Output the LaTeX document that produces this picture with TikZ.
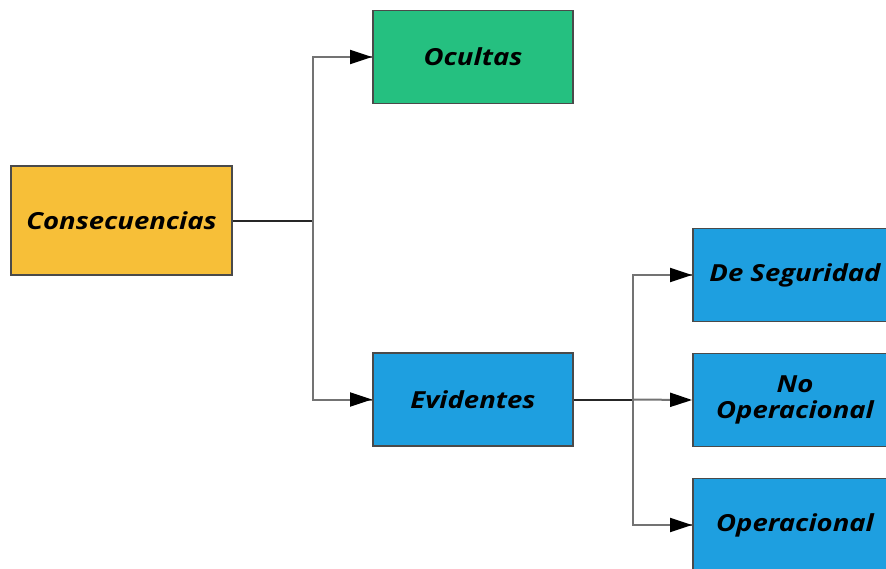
\documentclass[tikz,border=0pt]{standalone}
\usepackage{fontspec}
\setmainfont{Open Sans}[FakeStretch=1.17]
\usetikzlibrary{arrows.meta}
\definecolor{cyellow}{HTML}{F7BF38}
\definecolor{cgreen}{HTML}{25C080}
\definecolor{cblue}{HTML}{1E9FE0}
\definecolor{cborder}{HTML}{4A4A4A}
\begin{document}
\begin{tikzpicture}[x=1pt,y=-1pt,
  box/.style={draw=cborder, line width=1.8pt, minimum width=200pt, minimum height=93pt,
    inner sep=0pt, align=center, font=\fontsize{23.5}{26}\selectfont\bfseries\itshape},
  conn/.style={draw=black!85, line width=2pt},
  vline/.style={draw=black!55, line width=2pt},
  arr/.style={draw=black!55, line width=2pt, -{Triangle[length=22pt,width=14pt,color=black]}}]
\useasboundingbox (0,0) rectangle (886,568);
\clip (0,0) rectangle (886,568);
\node[box, fill=cyellow, minimum width=221pt, minimum height=109pt] (cons) at (121.5,220.5) {Consecuencias};
\node[box, fill=cgreen] (ocul) at (473,57) {Ocultas};
\node[box, fill=cblue] (evid) at (473,399.5) {Evidentes};
\node[box, fill=cblue, minimum width=204pt] (seg) at (795,275) {De Seguridad};
\node[box, fill=cblue, minimum width=204pt] (noop) at (795,400) {No\\Operacional};
\node[box, fill=cblue, minimum width=204pt] (oper) at (795,525) {Operacional};
\coordinate (j1) at (313,220.5);
\coordinate (j2) at (633,399.5);
\draw[conn] (cons.east) -- (j1);
\draw[vline] (j1) |- (ocul.west);
\draw[vline] (j1) |- (evid.west);
\draw[arr] (j1 |- ocul.west) -- (ocul.west);
\draw[arr] (j1 |- evid.west) -- (evid.west);
\draw[conn] (evid.east) -- (j2);
\draw[vline] (j2) |- (seg.west);
\draw[vline] (j2) |- (oper.west);
\draw[arr] (j2 |- seg.west) -- (seg.west);
\draw[arr] (j2) -- (noop.west);
\draw[arr] (j2 |- oper.west) -- (oper.west);
\end{tikzpicture}
\end{document}
